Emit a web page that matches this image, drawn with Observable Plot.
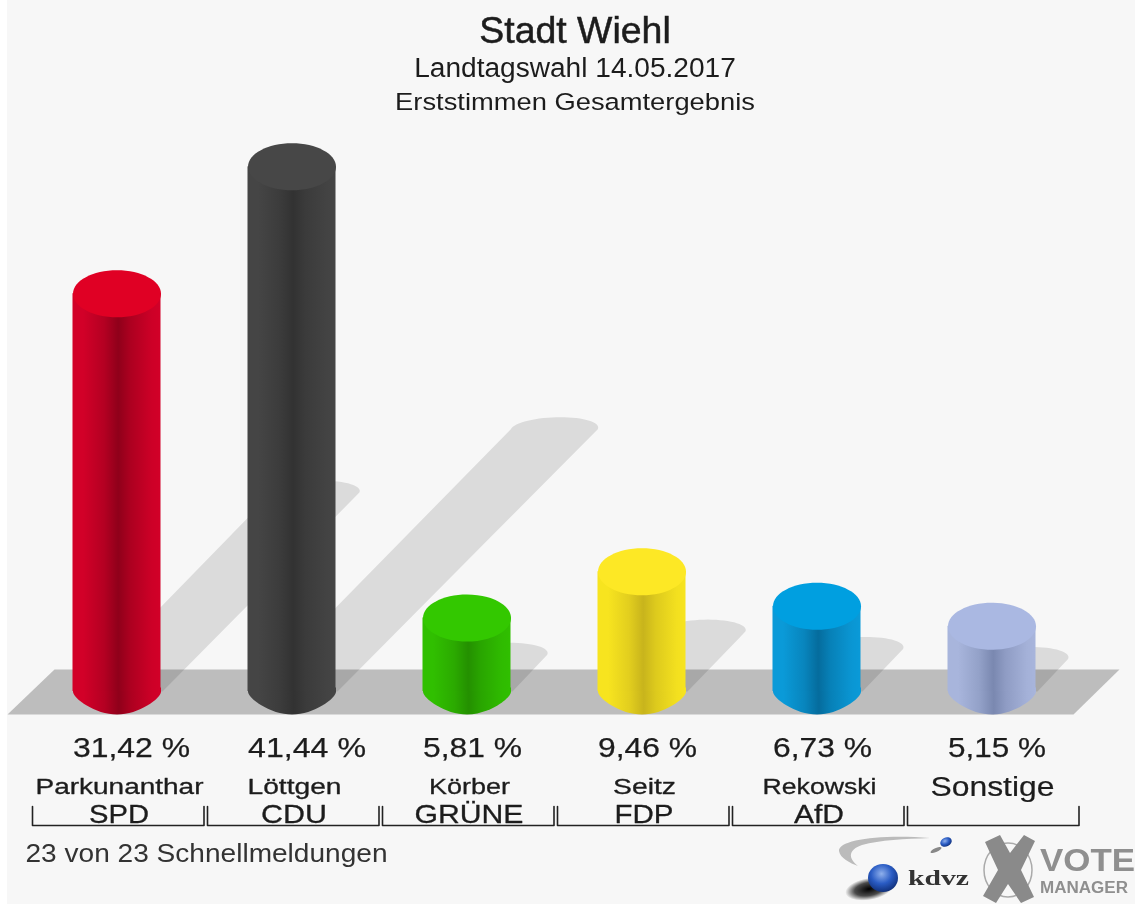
<!DOCTYPE html>
<html><head><meta charset="utf-8">
<script src="https://cdn.jsdelivr.net/npm/d3@7"></script>
<script src="https://cdn.jsdelivr.net/npm/@observablehq/plot@0.6"></script>
<style>
html,body{margin:0;padding:0;width:1135px;height:904px;overflow:hidden;background:linear-gradient(to right,#fff 7px,#f7f7f7 7px);font-family:"Liberation Sans",Arial,sans-serif;color:#1c1c1c}
#wrap{position:relative;width:1135px;height:904px;filter:blur(.6px)}
#head{position:absolute;left:0;top:0;width:1150px;height:125px;text-align:center}
#head div{position:absolute;left:0;right:0;white-space:nowrap}
#t1{top:10px;font-size:36px;line-height:42px;-webkit-text-stroke:.5px #1c1c1c;transform:scaleX(1.04)}
#t2{top:53px;font-size:27px;line-height:30px;transform:scaleX(1.04)}
#t3{top:87px;font-size:24.5px;line-height:30px;transform:scaleX(1.115)}
#chart{position:absolute;left:0;top:125px}
#logo{position:absolute;left:0;top:0}
</style></head><body>
<div id="wrap">
<div id="head"><div id="t1">Stadt Wiehl</div><div id="t2">Landtagswahl 14.05.2017</div><div id="t3">Erststimmen Gesamtergebnis</div></div>
<div id="chart"></div>
<svg id="logo" width="1135" height="904" font-family="Liberation Sans">
 <defs><radialGradient id="ball" cx=".45" cy=".35" r=".7"><stop offset="0" stop-color="#8fb0ec"/><stop offset=".5" stop-color="#2a5cc4"/><stop offset="1" stop-color="#0d2a70"/></radialGradient>
 <radialGradient id="bsh"><stop offset="0" stop-color="#000"/><stop offset=".6" stop-color="#000" stop-opacity=".7"/><stop offset="1" stop-color="#000" stop-opacity="0"/></radialGradient></defs>
 <path d="M930 838 C880 834 838 840 839 851 C840 858 850 863 858 866 C848 858 848 850 862 845 C880 840 905 839 930 838Z" fill="#bbb"/>
 <ellipse cx="869" cy="889" rx="24" ry="11" fill="url(#bsh)" transform="rotate(-10 869 889)"/>
 <ellipse cx="883" cy="878" rx="15" ry="14" fill="url(#ball)"/>
 <ellipse cx="946" cy="842" rx="6" ry="4.5" fill="url(#ball)" transform="rotate(-25 946 842)"/>
 <ellipse cx="936" cy="850" rx="6" ry="2" fill="#888" transform="rotate(-25 936 850)"/>
 <text x="908" y="885" font-family="Liberation Serif" font-weight="bold" font-size="22" textLength="61" lengthAdjust="spacingAndGlyphs" fill="#333">kdvz</text>
 <ellipse cx="1008" cy="870" rx="24" ry="27" fill="none" stroke="#aaa" stroke-width="1.5"/>
 <path d="M985 842 L1000 835 L1010 853 L1024 835 L1035 841 L1021 870 L1034 897 L1021 903 L1008 884 L996 903 L983 896 L998 870Z" fill="#8a8a8a"/>
 <text x="1040" y="871" font-weight="bold" font-size="32" textLength="95" lengthAdjust="spacingAndGlyphs" fill="#8f8f8f">VOTE</text>
 <text x="1040" y="892.5" font-weight="bold" font-size="16" textLength="88" lengthAdjust="spacingAndGlyphs" fill="#8f8f8f">MANAGER</text>
</svg>
</div>
<script>
// Data
const parties = ["SPD","CDU","GRÜNE","FDP","AfD","Sonstige"];
const names = ["Parkunanthar","Löttgen","Körber","Seitz","Rekowski",""];
const values = [31.42,41.44,5.81,9.46,6.73,5.15];
const valueLabels = ["31,42 %","41,44 %","5,81 %","9,46 %","6,73 %","5,15 %"];
const topColors = ["#e00024","#474747","#33c800","#fde825","#009fe0","#aab8e2"];
const lightColors = ["#d20028","#454545","#30bf00","#f7e41f","#0a9ad8","#a8b5dc"];
const darkColors = ["#8f001a","#323232","#249000","#c8b41c","#056c9d","#7a88b0"];
const footer = "23 von 23 Schnellmeldungen";

// Layout (pixels)
const textWidths = new Map([
  ["31,42 %",117],["41,44 %",118],["5,81 %",99],["9,46 %",99],["6,73 %",99],["5,15 %",98],
  ["Parkunanthar",168],["Löttgen",94],["Körber",81],["Seitz",63],["Rekowski",114],["Sonstige",124],
  ["SPD",60],["CDU",66],["GRÜNE",109],["FDP",59],["AfD",50],[footer,362]
]);
const W = 1135, H = 779, base = 566, pxPerPct = 12.66, x0 = 29, step = 175;
const RX = 44, RY = 23.5;
const ux = px => px / step;            // px length to x units
const uy = px => px / pxPerPct;        // px length to y units
const idx = d3.range(parties.length);
const rows = idx.map(i => ({i, c:i+.5, v:values[i]}));

const topCap = {draw(p){
  const rx = RX, ry = RY, k = .5523;
  p.moveTo(-rx,0);
  p.bezierCurveTo(-rx,-ry*k,-rx*k,-ry,0,-ry);
  p.bezierCurveTo(rx*k,-ry,rx,-ry*k,rx,0);
  p.bezierCurveTo(rx,ry*k,rx*k,ry,0,ry);
  p.bezierCurveTo(-rx*k,ry,-rx,ry*k,-rx,0);
  p.closePath();
}};
const footCap = {draw(p){
  const rx = RX, ry = 23;
  p.moveTo(-rx,-4);
  p.lineTo(rx,-4);
  p.lineTo(rx,0);
  p.bezierCurveTo(rx,ry*.3,rx*.5,ry,0,ry);
  p.bezierCurveTo(-rx*.5,ry,-rx,ry*.3,-rx,0);
  p.closePath();
}};

// Floor parallelogram: 45 deg shear between front and rear edge
const floor = [
  {x:ux(7-x0), y:-uy(23)},
  {x:ux(54-x0), y:uy(22)},
  {x:ux(1119-x0), y:uy(22)},
  {x:ux(1073-x0), y:-uy(23)}
];

// Cast shadows: band sheared from the foot of the bar, with a flattened cap
function shadow(r){
  const d = r.v*pxPerPct*.5, sx = 42, cx = r.c + ux(3.5);
  const pts = [{x:cx-ux(sx), y:0}];
  for (let t = Math.PI; t >= -1e-6; t -= Math.PI/32){
    const s = Math.sin(t)*12;
    pts.push({x:r.c+ux(d+Math.cos(t)*43.5+s*.5), y:uy(d+s)});
  }
  pts.push({x:cx+ux(sx), y:0});
  return pts;
}

// Brackets under each column
const bracket = idx.flatMap(i => {
  const l = i+ux(3), r = i+ux(174.5), top = -uy(115), bot = -uy(134);
  return [{i,x:l,y:top},{i,x:l,y:bot},{i,x:r,y:bot},{i,x:r,y:top}];
});

const textBase = {fontFamily:"Liberation Sans", fill:"#1c1c1c"};
const named = rows.filter(d=>names[d.i]), unnamed = rows.filter(d=>!names[d.i]);

const chart = Plot.plot({
  width:W, height:H, margin:0,
  style:{background:"transparent"},
  x:{type:"linear", domain:[0,6], range:[x0,x0+6*step], axis:null},
  y:{type:"linear", domain:[0,base/pxPerPct], range:[base,0], axis:null},
  marks:[
    Plot.line(floor,{x:"x",y:"y",fill:"#bdbdbd",stroke:"none"}),
    ...rows.map(r => Plot.line(shadow(r),{x:"x",y:"y",fill:"#000",fillOpacity:.11,stroke:"none"})),
    ...rows.flatMap(r => [
      Plot.dot([r],{x:"c",y:()=>0,symbol:footCap,r:1,fill:`url(#g${r.i})`,stroke:"none"}),
      Plot.rectY([r],{x1:d=>d.c-ux(RX),x2:d=>d.c+ux(RX),y1:()=>0,y2:"v",fill:`url(#g${r.i})`}),
      Plot.dot([r],{x:"c",y:"v",symbol:topCap,r:1,fill:topColors[r.i],stroke:"none"})
    ]),
    Plot.text(rows,{...textBase,x:d=>d.c-ux(RX),y:()=>0,text:d=>valueLabels[d.i],dy:56.7,textAnchor:"start",fontSize:28,stroke:"#1c1c1c",strokeWidth:.25}),
    Plot.text(named,{...textBase,x:d=>d.c+ux(2.5),y:()=>0,text:d=>names[d.i],dy:96,fontSize:21.5,stroke:"#1c1c1c",strokeWidth:.3}),
    Plot.text(named,{...textBase,x:d=>d.c+ux(2),y:()=>0,text:d=>parties[d.i],dy:123.5,fontSize:26,stroke:"#1c1c1c",strokeWidth:.3}),
    Plot.text(unnamed,{...textBase,x:d=>d.c+ux(.5),y:()=>0,text:d=>parties[d.i],dy:95.2,fontSize:27.5,stroke:"#1c1c1c",strokeWidth:.2}),
    Plot.line(bracket,{x:"x",y:"y",z:"i",stroke:"#222",strokeWidth:1.6}),
    Plot.text([footer],{...textBase,x:()=>ux(25-x0),y:()=>0,text:d=>d,dy:162.4,textAnchor:"start",fontSize:26,fill:"#333"})
  ]
});
const defs = d3.select(chart).append("defs");
idx.forEach(i => {
  const mix = t => d3.interpolateRgb(lightColors[i],darkColors[i])(t);
  const g = defs.append("linearGradient").attr("id",`g${i}`).attr("x1",0).attr("x2",1).attr("y1",0).attr("y2",0);
  [[0,lightColors[i]],[.12,lightColors[i]],[.36,mix(.45)],[.52,darkColors[i]],[.66,mix(.55)],[.9,mix(.08)],[1,lightColors[i]]]
    .forEach(([o,c]) => g.append("stop").attr("offset",o).attr("stop-color",c));
});
document.getElementById("chart").append(chart);
// The reference's lettering is stretched sideways: fit each label to its read width
chart.querySelectorAll("text").forEach(t => {
  const w = textWidths.get(t.textContent);
  if (w) { t.setAttribute("textLength", w); t.setAttribute("lengthAdjust", "spacingAndGlyphs"); }
});
</script>
</body></html>
